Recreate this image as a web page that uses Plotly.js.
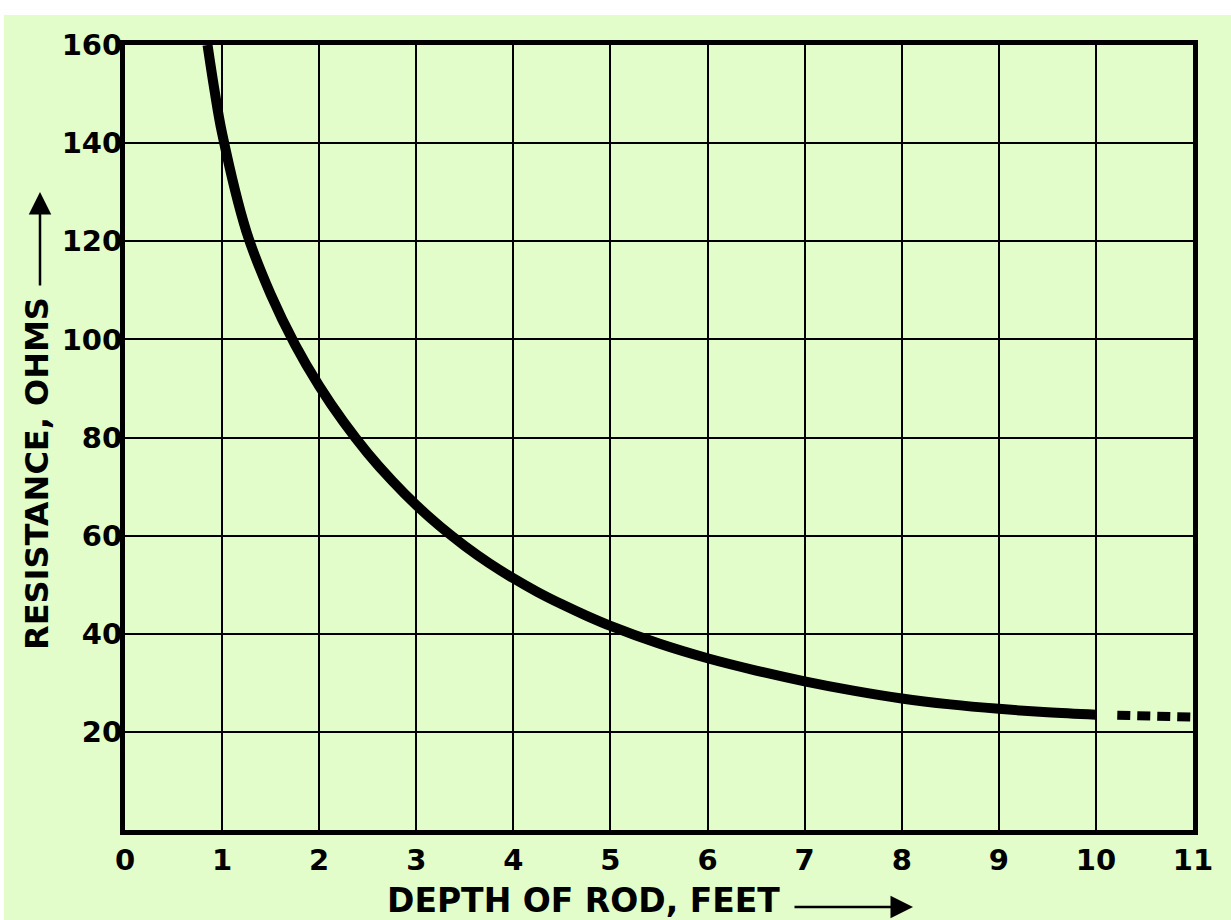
<!DOCTYPE html>
<html>
<head>
<meta charset="utf-8">
<script src="https://cdn.plot.ly/plotly-3.0.1.min.js"></script>
<style>
  html, body { margin: 0; padding: 0; background: #ffffff; width: 1231px; height: 920px; overflow: hidden; }
  #chart { position: absolute; left: 4px; top: 15px; width: 1227px; height: 905px; }
</style>
</head>
<body>
<div id="chart"></div>
<script>
// Depth of rod (feet) vs. resistance (ohms) — solid measured curve
const depthFeet = [0.85, 0.92, 1.0, 1.25, 1.5, 1.75, 2.0, 2.25, 2.5, 2.75, 3.0, 3.25, 3.5, 3.75, 4.0, 4.25, 4.5, 4.75, 5.0, 5.5, 6.0, 6.5, 7.0, 7.5, 8.0, 8.5, 9.0, 9.5, 10.0];
const resistanceOhms = [160, 151, 142, 122, 109.2, 99, 90.5, 83.2, 76.8, 71.2, 66.2, 61.8, 57.9, 54.4, 51.3, 48.5, 46.0, 43.7, 41.6, 38.0, 35.0, 32.5, 30.3, 28.4, 26.8, 25.6, 24.7, 24.0, 23.5];
// Extrapolated (dashed) portion
const depthExtrap = [10.22, 11.0];
const resistanceExtrap = [23.4, 23.0];

const xTickVals = [0, 1, 2, 3, 4, 5, 6, 7, 8, 9, 10, 11];
const xTickText = ["0", "1", "2", "3", "4", "5", "6", "7", "8", "9", "10", "11"];
const yTickVals = [20, 40, 60, 80, 100, 120, 140, 160];
const yTickText = ["20", "40", "60", "80", "100", "120", "140", "160"];

const xTitle = "DEPTH OF ROD, FEET";
const yTitle = "RESISTANCE, OHMS";

const bg = "#e2fdc9";
const ink = "#000000";

const traces = [
  {
    x: depthFeet, y: resistanceOhms, type: "scatter", mode: "lines",
    line: { color: ink, width: 10, shape: "spline", smoothing: 1 },
    hoverinfo: "x+y", showlegend: false
  },
  {
    x: depthExtrap, y: resistanceExtrap, type: "scatter", mode: "lines",
    line: { color: ink, width: 9, dash: "13px,7px" },
    hoverinfo: "x+y", showlegend: false
  }
];

const tickFont = { family: "DejaVu Sans", size: 29, color: ink, weight: "bold" };
const titleFont = { family: "DejaVu Sans", size: 33, color: ink, weight: "bold" };
const yTitleFont = { family: "DejaVu Sans", size: 32, color: ink, weight: "bold" };

const layout = {
  width: 1227, height: 905,
  paper_bgcolor: bg, plot_bgcolor: bg,
  margin: { l: 121, r: 38, t: 30, b: 90, pad: 0 },
  showlegend: false,
  xaxis: {
    range: [0, 11], tickvals: xTickVals, ticktext: xTickText,
    showgrid: true, gridcolor: ink, gridwidth: 2,
    showline: true, linecolor: ink, linewidth: 5, mirror: true,
    zeroline: false,
    ticks: "", tickfont: tickFont, fixedrange: true
  },
  yaxis: {
    range: [0, 160], tickvals: yTickVals, ticktext: yTickText,
    showgrid: true, gridcolor: ink, gridwidth: 2,
    showline: true, linecolor: ink, linewidth: 5, mirror: true,
    zeroline: false,
    ticks: "", ticklabelstandoff: -8, tickfont: tickFont, fixedrange: true
  },
  annotations: [
    {
      text: yTitle, xref: "paper", yref: "paper",
      x: (37 - 125) / 1068, y: (830 - 474) / 785,
      xanchor: "center", yanchor: "middle", textangle: -90,
      showarrow: false, font: yTitleFont
    },
    {
      text: "", xref: "paper", yref: "paper",
      x: (40 - 125) / 1068, y: (830 - 192) / 785,
      showarrow: true, ax: 0, ay: 95, axref: "pixel", ayref: "pixel",
      arrowhead: 2, arrowsize: 1.8, arrowwidth: 2.5, arrowcolor: ink, standoff: 0
    },
    {
      text: xTitle, xref: "paper", yref: "paper",
      x: (583 - 125) / 1068, y: (830 - 900) / 785,
      xanchor: "center", yanchor: "middle",
      showarrow: false, font: titleFont
    },
    {
      text: "", xref: "paper", yref: "paper",
      x: (913 - 125) / 1068, y: (830 - 907) / 785,
      showarrow: true, ax: -120, ay: 0, axref: "pixel", ayref: "pixel",
      arrowhead: 2, arrowsize: 1.8, arrowwidth: 2.5, arrowcolor: ink, standoff: 0
    }
  ]
};

Plotly.newPlot("chart", traces, layout, { displayModeBar: false, staticPlot: true });
</script>
</body>
</html>
